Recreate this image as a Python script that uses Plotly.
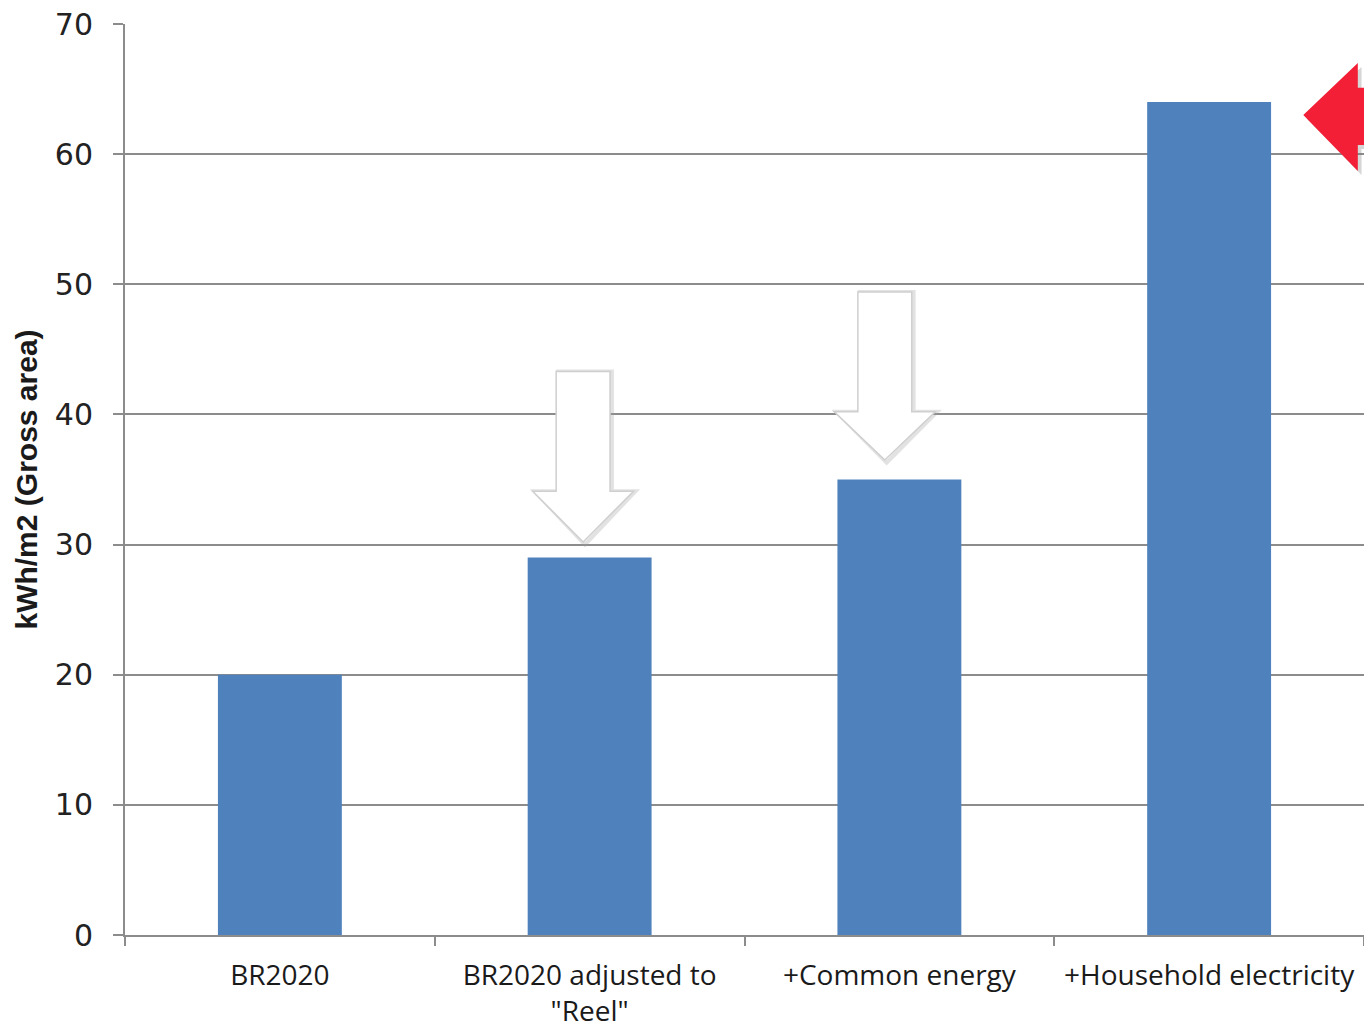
import plotly.graph_objects as go

categories = ["BR2020", "BR2020 adjusted to<br>\"Reel\"", "+Common energy", "+Household electricity"]
values = [20, 29, 35, 64]
y_ticks = [0, 10, 20, 30, 40, 50, 60, 70]

fig = go.Figure()
fig.add_trace(go.Bar(
    x=categories, y=values, width=0.4,
    marker=dict(color="#4f81bd", line=dict(width=0)),
))

def down_arrow(xc, top, neck, tip, shaft_hw, head_hw):
    return (f"M {xc-shaft_hw} {top} L {xc+shaft_hw} {top} L {xc+shaft_hw} {neck} "
            f"L {xc+head_hw} {neck} L {xc} {tip} L {xc-head_hw} {neck} "
            f"L {xc-shaft_hw} {neck} Z")

shapes = []
for xc, top, neck, tip in [(0.979, 43.3, 34.1, 30.2), (1.953, 49.4, 40.2, 36.5)]:
    shapes.append(dict(type="path", xref="x", yref="y", layer="above",
                       path=down_arrow(xc + 0.006, top, neck, tip - 0.2, 0.087, 0.163),
                       fillcolor="rgba(0,0,0,0)", line=dict(color="rgba(160,160,160,0.3)", width=4)))
    shapes.append(dict(type="path", xref="x", yref="y", layer="above",
                       path=down_arrow(xc, top, neck, tip, 0.087, 0.163),
                       fillcolor="white", line=dict(color="#cfcfcf", width=1.5)))

# red arrow pointing left at last bar
red_path = ("M 0.951 63.0 L 0.995 67.0 L 0.995 65.1 L 1.2 65.1 L 1.2 60.7 "
            "L 0.995 60.7 L 0.995 58.7 Z")
shadow_path = ("M 0.954 62.7 L 0.998 66.7 L 0.998 64.8 L 1.2 64.8 L 1.2 60.4 "
               "L 0.998 60.4 L 0.998 58.4 Z")
shapes.append(dict(type="path", xref="paper", yref="y", layer="above", path=shadow_path,
                   fillcolor="rgba(120,120,120,0.3)", line=dict(width=0)))
shapes.append(dict(type="path", xref="paper", yref="y", layer="above", path=red_path,
                   fillcolor="#f21f36", line=dict(width=0)))

fig.update_layout(
    width=1356, height=1020,
    margin=dict(l=117, r=0, t=16, b=93),
    paper_bgcolor="white", plot_bgcolor="white",
    showlegend=False,
    shapes=shapes,
    xaxis=dict(
        type="category", tickson="boundaries", ticks="outside", ticklen=9,
        tickcolor="#8c8c8c", tickwidth=2, tickangle=0, automargin=False,
        showline=True, linecolor="#8c8c8c", linewidth=2,
        showgrid=False, range=[-0.5, 3.5],
        tickfont=dict(family="Open Sans", size=28, color="#1a1a1a"),
        ticklabelstandoff=14, ticklabeloverflow="allow",
    ),
    yaxis=dict(
        range=[0, 70], tickvals=y_ticks, ticks="outside", ticklen=10,
        tickcolor="#8c8c8c", tickwidth=2, automargin=False,
        showline=True, linecolor="#8c8c8c", linewidth=2,
        showgrid=True, gridcolor="#8c8c8c", gridwidth=2,
        zeroline=False,
        tickfont=dict(family="DejaVu Sans", size=30, color="#222222"),
        ticklabelstandoff=14, ticklabeloverflow="allow",
        title=dict(text="<b>kWh/m2 (Gross area)</b>", standoff=8,
                   font=dict(family="Liberation Sans", size=30, color="#1a1a1a")),
    ),
)

fig.write_html("out.html")
